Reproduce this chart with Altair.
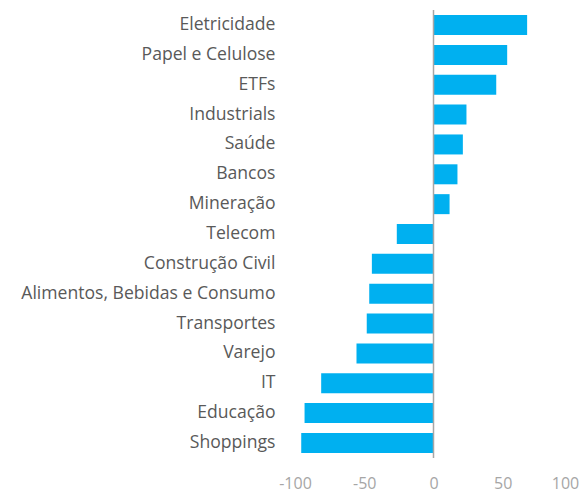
import altair as alt
import pandas as pd

categories = ["Eletricidade", "Papel e Celulose", "ETFs", "Industrials", "Saúde", "Bancos",
              "Mineração", "Telecom", "Construção Civil", "Alimentos, Bebidas e Consumo",
              "Transportes", "Varejo", "IT", "Educação", "Shoppings"]
values = [67.6, 53.2, 45.3, 23.8, 21.2, 17.3, 11.6, -26.5, -44.5, -46.4, -48.2, -55.6, -81.1, -93.1, -95.5]
x_ticks = [-100, -50, 0, 50, 100]

df = pd.DataFrame({"cat": categories, "val": values})
FONT = "Open Sans"

bars = alt.Chart(df).mark_bar(color="#00B0F0").encode(
    x=alt.X("val:Q", scale=alt.Scale(domain=[-100, 100], nice=False),
            axis=alt.Axis(values=x_ticks, grid=False, domain=False, ticks=False, title=None,
                          labelColor="#A6A6A6", labelFontSize=16, labelPadding=17, labelFont=FONT,
                          labelFlush=False, labelExpr="'' + datum.value",
                          labelOffset={"condition": {"test": "datum.value == 100", "value": -7}, "value": 0})),
    y=alt.Y("cat:N", sort=categories,
            scale=alt.Scale(paddingInner=0.33, paddingOuter=0.17),
            axis=alt.Axis(domain=False, ticks=False, title=None, labelColor="#595959",
                          labelFontSize=17.6, labelPadding=20, labelFont=FONT, labelLimit=400)),
)

zero = alt.Chart(pd.DataFrame({"z": [0]})).mark_rule(color="#A6A6A6", strokeWidth=1.5).encode(
    x="z:Q"
)

chart = alt.layer(bars, zero).properties(
    width=277, height=448,
    autosize=alt.AutoSizeParams(type="none"),
    padding={"left": 287, "top": 2, "right": 7, "bottom": 35},
).configure_view(stroke=None)

chart.save("out.html", embed_options={"renderer": "svg", "actions": False})
